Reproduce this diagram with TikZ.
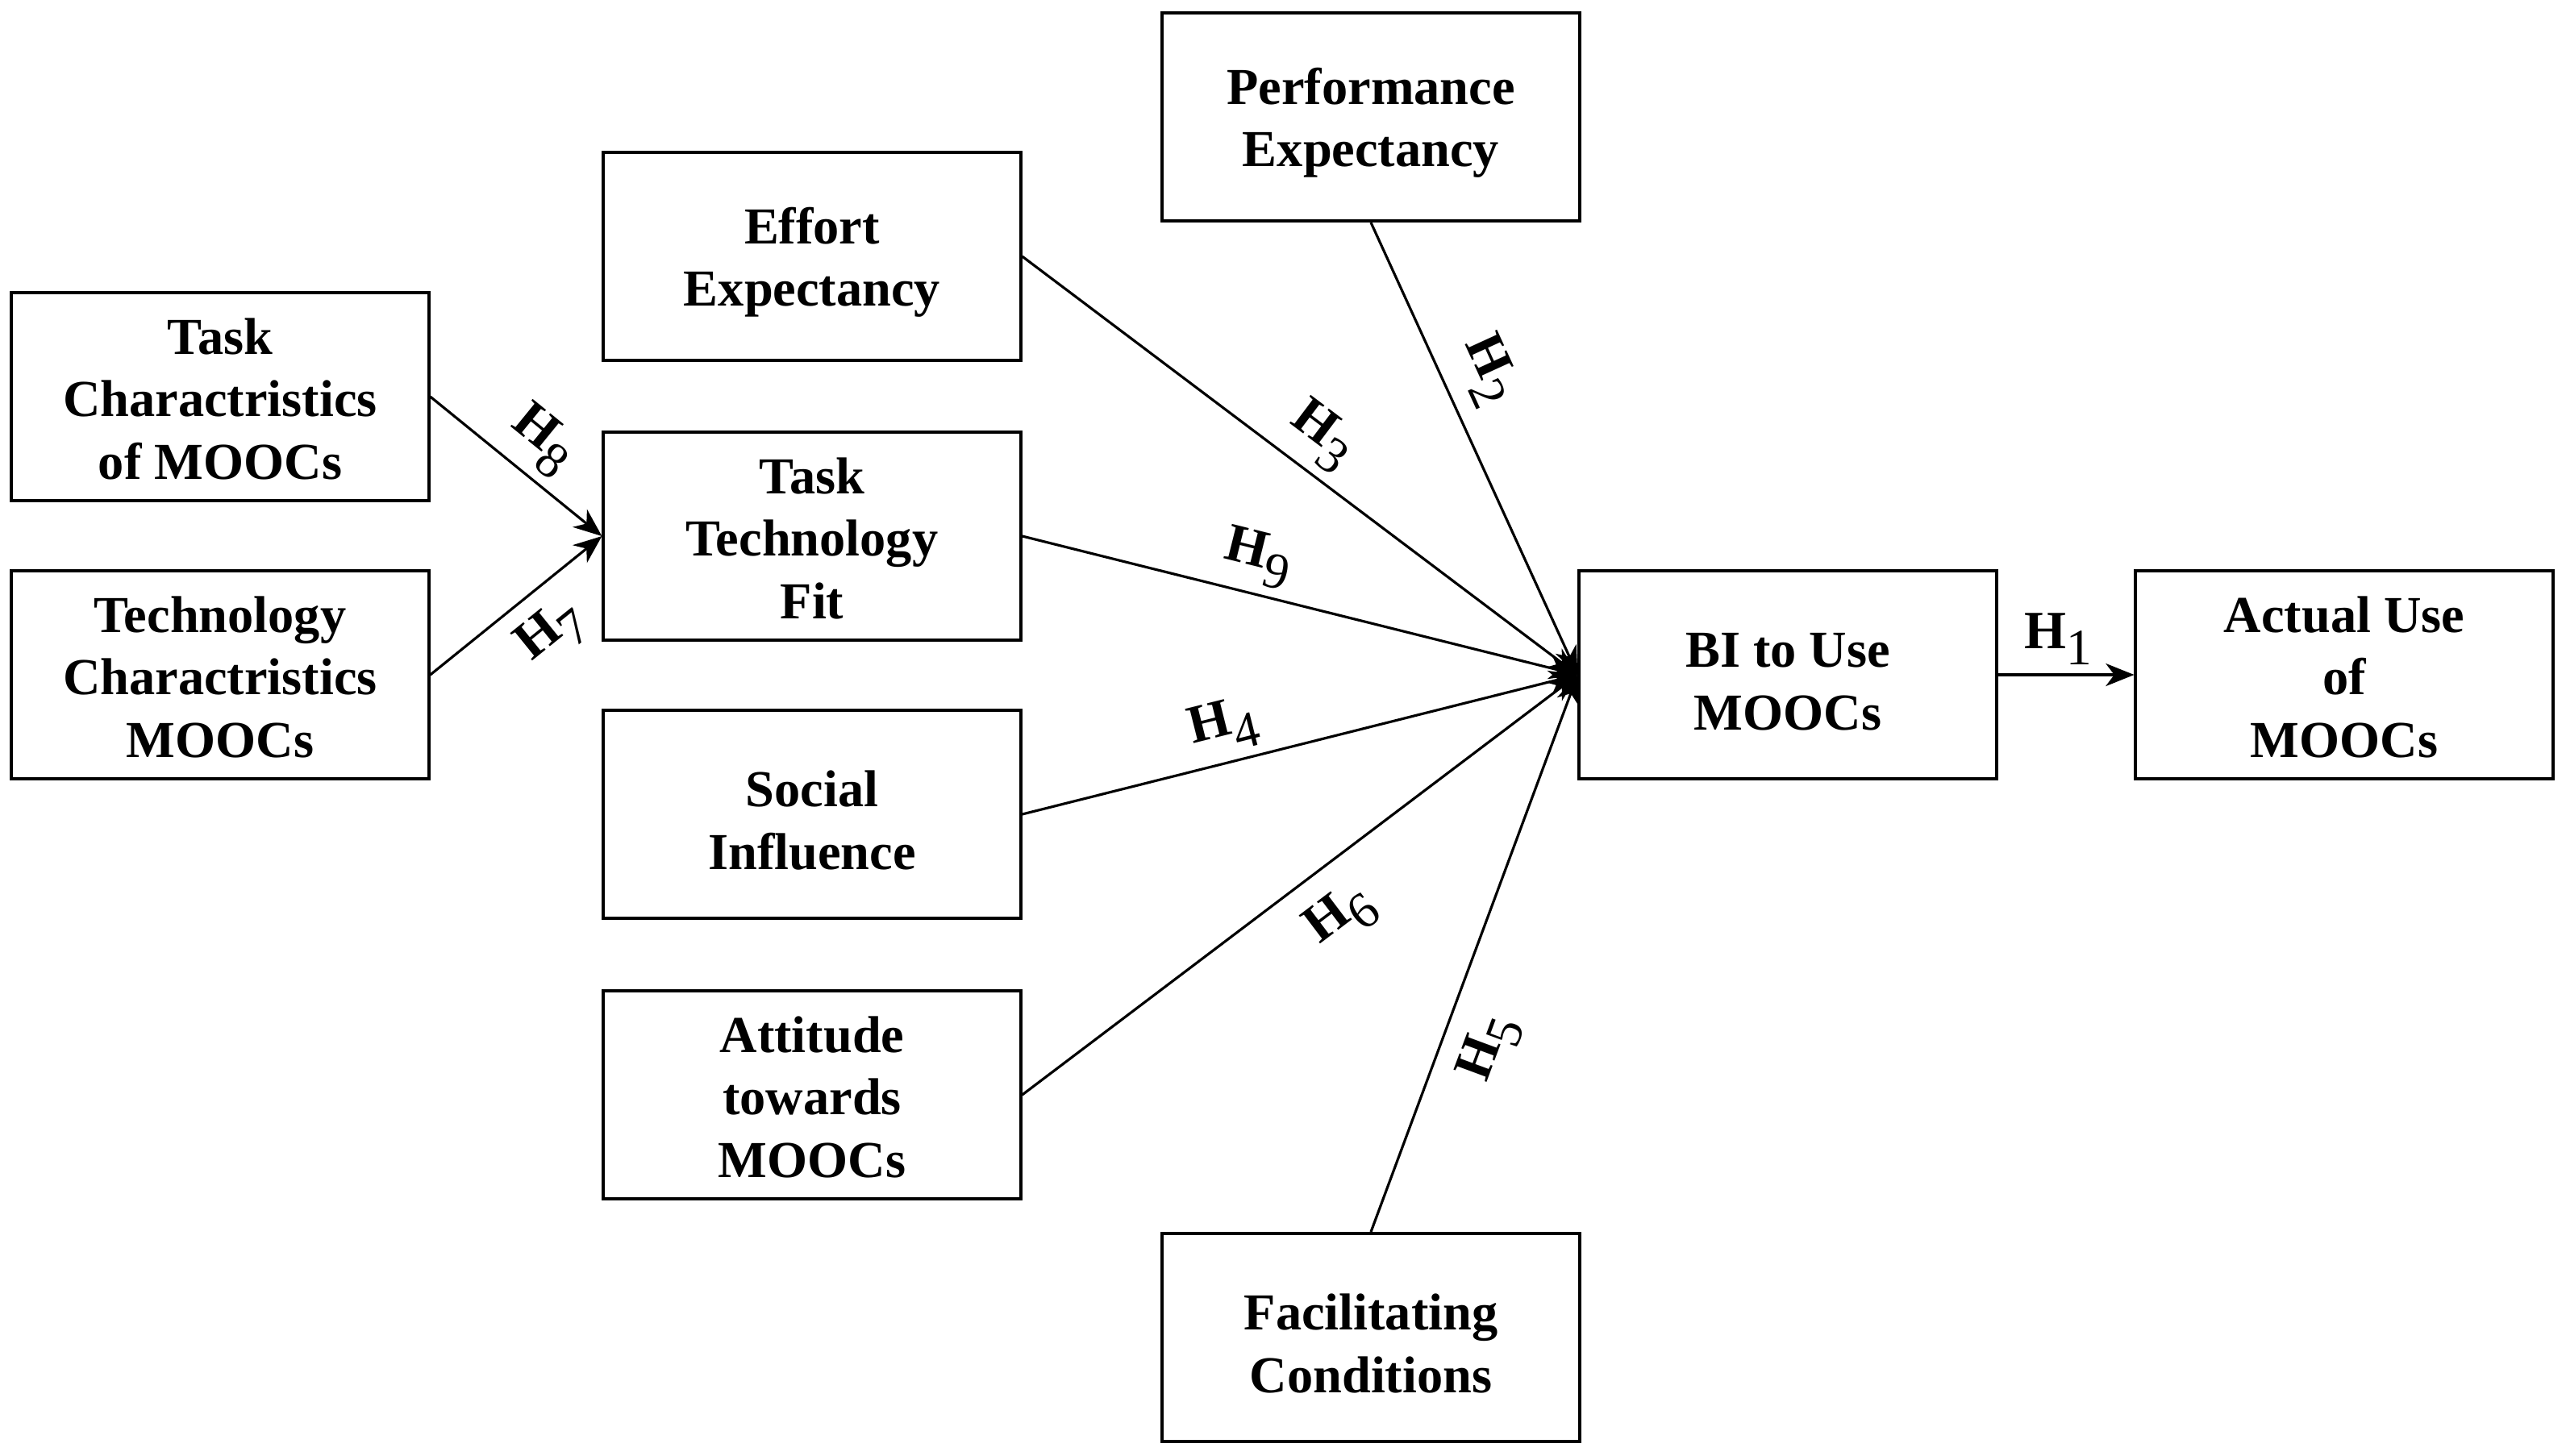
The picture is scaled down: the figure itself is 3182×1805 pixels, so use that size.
\documentclass[tikz,border=0pt]{standalone}
\usepackage{fontspec}
\setmainfont{Liberation Serif}
\usetikzlibrary{arrows.meta}
\tikzset{
  box/.style={draw, line width=1.1pt, minimum width=5.17cm, minimum height=2.58cm, inner sep=0pt, align=center,
    font=\bfseries\fontsize{18.3}{22}\selectfont},
  conn/.style={line width=0.9pt, -{Stealth[length=10pt,width=8pt,inset=3pt]}},
  hlab/.style={font=\bfseries\fontsize{19}{20}\selectfont, sloped, inner sep=3pt}
}
\newcommand{\fl}{\rule{0pt}{17pt}}
\newcommand{\fm}{\rule{0pt}{14.3pt}}
\newcommand{\hyp}[1]{H\textsubscript{\mdseries\fontsize{18}{18}\selectfont #1}}
\begin{document}
\begin{tikzpicture}[x=0.01cm,y=-0.01cm]
\useasboundingbox (0,0) rectangle (3182,1805);
\node[box] (pe) at (1700,145) {\fl Performance\\Expectancy};
\node[box] (ee) at (1007,318) {\fl Effort\\Expectancy};
\node[box] (tc) at (273,492) {\fm Task\\Charactristics\\of MOOCs};
\node[box] (ttf) at (1007,665) {\fm Task\\Technology\\Fit};
\node[box] (tech) at (273,837) {\fm Technology\\Charactristics\\MOOCs};
\node[box] (si) at (1007,1010) {\fl Social\\Influence};
\node[box] (att) at (1007,1358) {\fm Attitude\\towards\\MOOCs};
\node[box] (fc) at (1700,1659) {\fl Facilitating\\Conditions};
\node[box] (bi) at (2217,837) {\fl BI to Use\\MOOCs};
\node[box] (au) at (2907,837) {\fm Actual Use\\of\\MOOCs};

\draw[conn] (tc.east) -- node[hlab, pos=0.52, above] {\hyp{8}} (ttf.west);
\draw[conn] (tech.east) -- node[hlab, pos=0.55, below, inner sep=6pt] {\hyp{7}} (ttf.west);
\draw[conn] (ee.east) -- node[hlab, pos=0.50, above] {\hyp{3}} (bi.west);
\draw[conn] (pe.south) -- node[hlab, pos=0.37, above, inner sep=6pt] {\hyp{2}} (bi.west);
\draw[conn] (ttf.east) -- node[hlab, pos=0.41, above] {\hyp{9}} (bi.west);
\draw[conn] (si.east) -- node[hlab, pos=0.38, above] {\hyp{4}} (bi.west);
\draw[conn] (att.east) -- node[hlab, pos=0.52, below, inner sep=8pt] {\hyp{6}} (bi.west);
\draw[conn] (fc.north) -- node[hlab, pos=0.36, below, inner sep=7pt] {\hyp{5}} (bi.west);
\draw[conn] (bi.east) -- node[hlab, pos=0.45, above] {\hyp{1}} (au.west);
\end{tikzpicture}
\end{document}
